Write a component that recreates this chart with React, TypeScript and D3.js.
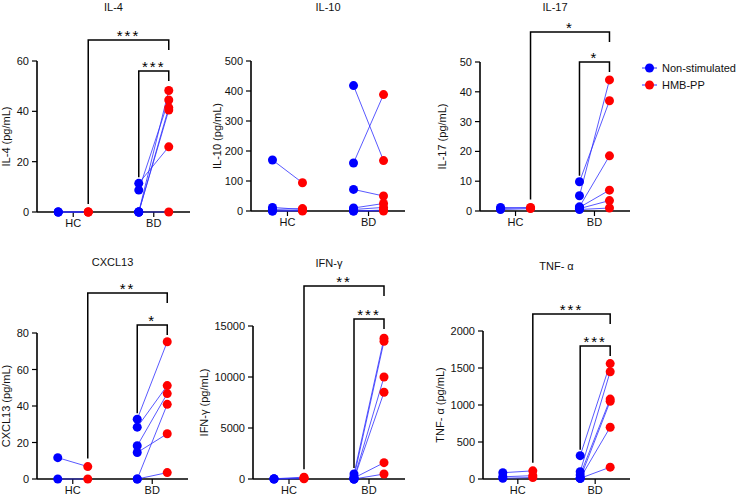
import React from "react";
import * as d3 from "d3";

// Groups on the x axis and the two stimulation conditions
const groups = ["HC", "BD"];
const seriesNames = ["Non-stimulated", "HMB-PP"];
const seriesColors = ["#0000ff", "#ff0000"];

// Paired donor measurements: [non-stimulated, HMB-PP] in pg/mL
const il4HC = [[0, 0], [0, 0], [0, 0]];
const il4BD = [[11.4, 25.9], [8.7, 44.5], [0, 48.3], [0, 41.5], [0, 40.5], [0, 0]];
const il10HC = [[170, 94], [12, 5], [5, 8], [0, 2], [0, 0]];
const il10BD = [[418, 168], [160, 388], [72, 50], [10, 25], [5, 12], [0, 3], [0, 0]];
const il17HC = [[1.2, 1], [0.8, 1.2], [0.5, 0.8]];
const il17BD = [[9.8, 37], [5.1, 44], [1.4, 18.5], [1.2, 7], [0.8, 3.5], [0.5, 1]];
const cxcl13HC = [[11.7, 6.8], [0, 0]];
const cxcl13BD = [[32.8, 75.2], [28.4, 51.2], [18.2, 46.8], [14.5, 24.8], [0, 40.9], [0, 3.5]];
const ifngHC = [[20, 180], [0, 100], [0, 30]];
const ifngBD = [[490, 13800], [200, 13500], [0, 10000], [0, 8500], [100, 1600], [0, 490]];
const tnfaHC = [[85, 110], [30, 45], [10, 20]];
const tnfaBD = [[315, 1560], [99, 1450], [54, 1080], [9, 1050], [9, 700], [9, 160]];

// Y axis ticks
const il4Ticks = [0, 20, 40, 60];
const il10Ticks = [0, 100, 200, 300, 400, 500];
const il17Ticks = [0, 10, 20, 30, 40, 50];
const cxcl13Ticks = [0, 20, 40, 60, 80];
const ifngTicks = [0, 5000, 10000, 15000];
const tnfaTicks = [0, 500, 1000, 1500, 2000];

// Significance: [HC HMB-PP vs BD HMB-PP, BD non-stimulated vs BD HMB-PP]
const il4Sig = ["***", "***"];
const il10Sig: string[] = [];
const il17Sig = ["*", "*"];
const cxcl13Sig = ["**", "*"];
const ifngSig = ["**", "***"];
const tnfaSig = ["***", "***"];

const titles = ["IL-4", "IL-10", "IL-17", "CXCL13", "IFN-γ", "TNF- α"];
const yLabels = [
  "IL-4 (pg/mL)",
  "IL-10 (pg/mL)",
  "IL-17 (pg/mL)",
  "CXCL13 (pg/mL)",
  "IFN-γ (pg/mL)",
  "TNF- α (pg/mL)",
];

const panelData = [
  { hc: il4HC, bd: il4BD, ticks: il4Ticks, sig: il4Sig },
  { hc: il10HC, bd: il10BD, ticks: il10Ticks, sig: il10Sig },
  { hc: il17HC, bd: il17BD, ticks: il17Ticks, sig: il17Sig },
  { hc: cxcl13HC, bd: cxcl13BD, ticks: cxcl13Ticks, sig: cxcl13Sig },
  { hc: ifngHC, bd: ifngBD, ticks: ifngTicks, sig: ifngSig },
  { hc: tnfaHC, bd: tnfaBD, ticks: tnfaTicks, sig: tnfaSig },
];

// Plot frames: axis extents, title baseline, bracket heights, y-label x
const frames = [
  { x0: 37, x1: 190, y0: 61, y1: 212, titleY: 11, outerY: 40, innerY: 71, labelX: 6 },
  { x0: 251, x1: 405, y0: 61, y1: 211, titleY: 11, outerY: 40, innerY: 71, labelX: 217 },
  { x0: 480, x1: 630, y0: 62, y1: 211, titleY: 11, outerY: 32, innerY: 62, labelX: 442 },
  { x0: 37, x1: 188, y0: 333, y1: 479, titleY: 266, outerY: 293, innerY: 325, labelX: 6 },
  { x0: 253, x1: 405, y0: 326, y1: 479, titleY: 267, outerY: 286, innerY: 319, labelX: 204 },
  { x0: 483, x1: 630, y0: 331, y1: 479, titleY: 270, outerY: 314, innerY: 346, labelX: 440 },
];

const FONT = "'Liberation Sans', Arial, sans-serif";
const DOT_R = 4.5;
const PAIR_OFFSET = 15;

function Panel({ i }: { i: number }) {
  const d = panelData[i];
  const f = frames[i];
  const x = d3.scalePoint<string>().domain(groups).range([f.x0, f.x1]).padding(0.45);
  const y = d3
    .scaleLinear()
    .domain([0, d.ticks[d.ticks.length - 1]])
    .range([f.y1, f.y0]);

  const groupRows: [string, number[][]][] = [
    ["HC", d.hc],
    ["BD", d.bd],
  ];
  const px = (g: string, s: number) => (x(g) as number) + (s === 0 ? -PAIR_OFFSET : PAIR_OFFSET);

  const maxHcHmb = d3.max(d.hc, (p) => p[1]) as number;
  const maxBdNon = d3.max(d.bd, (p) => p[0]) as number;

  const brackets =
    d.sig.length === 2
      ? [
          {
            label: d.sig[0],
            xa: px("HC", 1),
            xb: px("BD", 1),
            yb: f.outerY,
            legA: y(maxHcHmb) - 8,
          },
          {
            label: d.sig[1],
            xa: px("BD", 0),
            xb: px("BD", 1),
            yb: f.innerY,
            legA: y(maxBdNon) - 6,
          },
        ]
      : [];

  return (
    <g>
      <text
        x={(f.x0 + f.x1) / 2}
        y={f.titleY}
        textAnchor="middle"
        fontSize={11}
        fontFamily={FONT}
        fill="#111"
      >
        {titles[i]}
      </text>
      <text
        transform={`translate(${f.labelX},${(f.y0 + f.y1) / 2}) rotate(-90)`}
        textAnchor="middle"
        dominantBaseline="central"
        fontSize={11}
        fontFamily={FONT}
        fill="#111"
      >
        {yLabels[i]}
      </text>

      {/* y axis */}
      <line x1={f.x0} x2={f.x0} y1={f.y0} y2={f.y1} stroke="#000" strokeWidth={1.6} />
      {d.ticks.map((t) => (
        <g key={t}>
          <line x1={f.x0 - 5} x2={f.x0} y1={y(t)} y2={y(t)} stroke="#000" strokeWidth={1.2} />
          <text
            x={f.x0 - 8}
            y={y(t)}
            textAnchor="end"
            dominantBaseline="central"
            fontSize={11}
            fontFamily={FONT}
            fill="#111"
          >
            {t}
          </text>
        </g>
      ))}

      {/* x axis */}
      <line x1={f.x0} x2={f.x1} y1={f.y1} y2={f.y1} stroke="#000" strokeWidth={1.6} />
      {groups.map((g) => (
        <g key={g}>
          <line x1={x(g)} x2={x(g)} y1={f.y1} y2={f.y1 + 5} stroke="#000" strokeWidth={1.2} />
          <text
            x={x(g)}
            y={f.y1 + 15}
            textAnchor="middle"
            fontSize={11}
            fontFamily={FONT}
            fill="#111"
          >
            {g}
          </text>
        </g>
      ))}

      {/* paired lines */}
      {groupRows.map(([g, rows]) =>
        rows.map((p, k) => (
          <line
            key={`${g}-l-${k}`}
            x1={px(g, 0)}
            y1={y(p[0])}
            x2={px(g, 1)}
            y2={y(p[1])}
            stroke="#2f2fff"
            strokeOpacity={0.8}
            strokeWidth={1}
          />
        ))
      )}
      {/* points */}
      {groupRows.map(([g, rows]) =>
        [0, 1].map((s) =>
          rows.map((p, k) => (
            <circle
              key={`${g}-${s}-${k}`}
              cx={px(g, s)}
              cy={y(p[s])}
              r={DOT_R}
              fill={seriesColors[s]}
            />
          ))
        )
      )}

      {/* significance brackets */}
      {brackets.map((b, k) => (
        <g key={k}>
          <path
            d={`M${b.xa},${b.legA}V${b.yb}H${b.xb}V${b.yb + 10}`}
            fill="none"
            stroke="#000"
            strokeWidth={1.5}
          />
          <text
            x={(b.xa + b.xb) / 2}
            y={b.yb + 1}
            textAnchor="middle"
            fontSize={15}
            letterSpacing={2}
            fontFamily={FONT}
            fill="#000"
          >
            {b.label}
          </text>
        </g>
      ))}
    </g>
  );
}

function Legend() {
  const lx = 642;
  const rows = [68, 85];
  return (
    <g>
      {seriesNames.map((name, s) => (
        <g key={name}>
          <line x1={lx} x2={lx + 15} y1={rows[s]} y2={rows[s]} stroke="#2f2fff" strokeWidth={1} />
          <circle cx={lx + 7.5} cy={rows[s]} r={DOT_R} fill={seriesColors[s]} />
          <text
            x={lx + 20}
            y={rows[s]}
            dominantBaseline="central"
            fontSize={11}
            fontFamily={FONT}
            fill="#111"
          >
            {name}
          </text>
        </g>
      ))}
    </g>
  );
}

export default function App() {
  return (
    <svg
      width={736}
      height={499}
      viewBox="0 0 736 499"
      style={{ position: "absolute", left: 0, top: 0, background: "#fff" }}
    >
      <rect width={736} height={499} fill="#fff" />
      {panelData.map((_, i) => (
        <Panel key={i} i={i} />
      ))}
      <Legend />
    </svg>
  );
}
